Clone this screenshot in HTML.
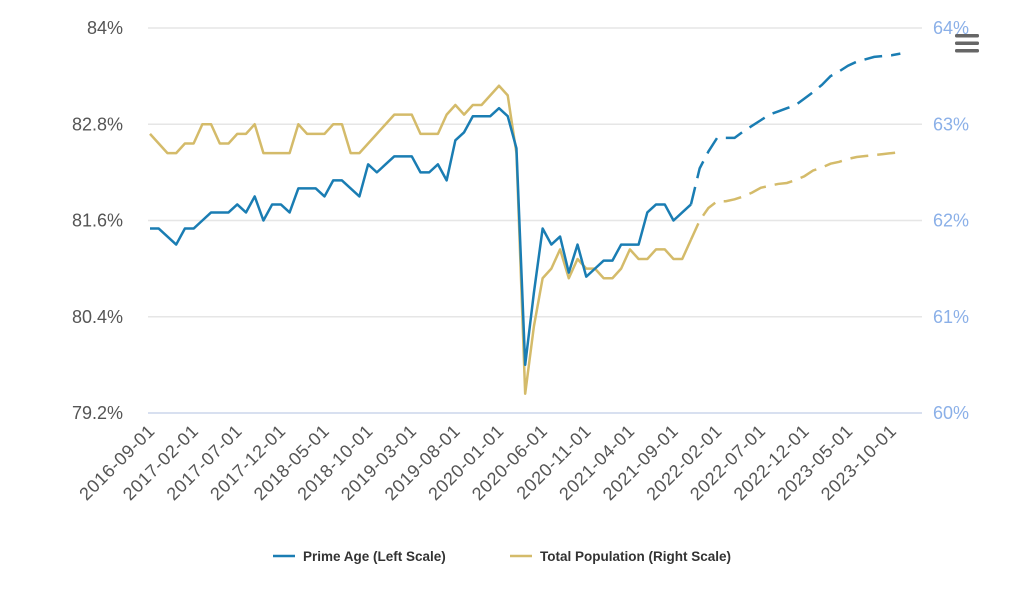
<!DOCTYPE html>
<html><head><meta charset="utf-8">
<style>
html,body{margin:0;padding:0;background:#fff;}
svg{display:block;font-family:"Liberation Sans",sans-serif;}
</style></head>
<body>
<svg id="chart" width="1024" height="597" viewBox="0 0 1024 597">
<g id="grid"></g>
<g id="axes"></g>
<g id="series"></g>
<g id="legend"></g>
<g>
<rect x="955" y="34" width="24" height="3.5" rx="1.5" fill="#666"/>
<rect x="955" y="41.5" width="24" height="3.5" rx="1.5" fill="#666"/>
<rect x="955" y="49" width="24" height="3.5" rx="1.5" fill="#666"/>
</g>
</svg>
<script>
const startYear = 2016, startMonth = 9;
const leftTicks = [79.2, 80.4, 81.6, 82.8, 84];
const leftTickLabels = ["79.2%", "80.4%", "81.6%", "82.8%", "84%"];
const rightTicks = [60, 61, 62, 63, 64];
const rightTickLabels = ["60%", "61%", "62%", "63%", "64%"];
const primeAge = [81.5,81.5,81.4,81.3,81.5,81.5,81.6,81.7,81.7,81.7,81.8,81.7,81.9,81.6,81.8,81.8,81.7,82.0,82.0,82.0,81.9,82.1,82.1,82.0,81.9,82.3,82.2,82.3,82.4,82.4,82.4,82.2,82.2,82.3,82.1,82.6,82.7,82.9,82.9,82.9,83.0,82.9,82.5,79.8,80.7,81.5,81.3,81.4,80.95,81.3,80.9,81.0,81.1,81.1,81.3,81.3,81.3,81.7,81.8,81.8,81.6,81.7,81.8,82.25,82.46,82.63,82.63,82.63,82.71,82.78,82.85,82.92,82.96,83.0,83.04,83.12,83.2,83.29,83.4,83.46,83.53,83.58,83.61,83.64,83.65,83.66,83.68];
const totalPop = [62.9,62.8,62.7,62.7,62.8,62.8,63.0,63.0,62.8,62.8,62.9,62.9,63.0,62.7,62.7,62.7,62.7,63.0,62.9,62.9,62.9,63.0,63.0,62.7,62.7,62.8,62.9,63.0,63.1,63.1,63.1,62.9,62.9,62.9,63.1,63.2,63.1,63.2,63.2,63.3,63.4,63.3,62.7,60.2,60.9,61.4,61.5,61.7,61.4,61.6,61.5,61.5,61.4,61.4,61.5,61.7,61.6,61.6,61.7,61.7,61.6,61.6,61.8,62.0,62.13,62.2,62.2,62.22,62.25,62.29,62.34,62.36,62.38,62.39,62.42,62.46,62.52,62.55,62.59,62.61,62.64,62.66,62.67,62.68,62.69,62.7,62.71];
const forecastStart = 62;
const labelEvery = 5;

const NS = "http://www.w3.org/2000/svg";
const X0 = 150, STEP = 8.725, YTOP = 28, YBOT = 413, GX0 = 148, GX1 = 922;
const xPos = i => X0 + i * STEP;
const yLeft = v => YBOT - (v - 79.2) / (84 - 79.2) * (YBOT - YTOP);
const yRight = v => YBOT - (v - 60) / (64 - 60) * (YBOT - YTOP);
function mk(tag, attrs, parent) {
  const e = document.createElementNS(NS, tag);
  for (const k in attrs) e.setAttribute(k, attrs[k]);
  parent.appendChild(e);
  return e;
}
const grid = document.getElementById("grid"), axes = document.getElementById("axes"),
      series = document.getElementById("series"), legend = document.getElementById("legend");

leftTicks.forEach((v, i) => {
  const y = yLeft(v);
  const g = mk("line", {x1: GX0, x2: GX1, y1: y, y2: y, stroke: i === 0 ? "#ccd6eb" : "#e6e6e6", "stroke-width": 1.5}, grid);
  
  
  const t = mk("text", {x: 123, y: y + 6, "text-anchor": "end", "font-size": 18, fill: "#555"}, axes);
  t.textContent = leftTickLabels[i];
  
  
});
rightTicks.forEach((v, i) => {
  const y = yRight(v);
  const t = mk("text", {x: 933, y: y + 6, "text-anchor": "start", "font-size": 18, fill: "#8bb0e8"}, axes);
  t.textContent = rightTickLabels[i];
  
  
});
for (let i = 0; i < primeAge.length; i += labelEvery) {
  const m0 = startMonth - 1 + i;
  const yr = startYear + Math.floor(m0 / 12), mo = (m0 % 12) + 1;
  const lbl = yr + "-" + String(mo).padStart(2, "0") + "-01";
  const x = xPos(i) + 6, y = 432;
  const t = mk("text", {x: x, y: y, "text-anchor": "end", "font-size": 18, "letter-spacing": 0.6, fill: "#555", transform: `rotate(-45 ${x} ${y})`}, axes);
  t.textContent = lbl;
  
  
}
function drawSeries(vals, yf, color, name) {
  const pts = vals.map((v, i) => [xPos(i), yf(v)]);
  const solid = pts.slice(0, forecastStart + 1).map(p => p.join(",")).join(" ");
  const dashed = pts.slice(forecastStart).map(p => p.join(",")).join(" ");
  const a = mk("polyline", {points: solid, fill: "none", stroke: color, "stroke-width": 2.5, "stroke-linejoin": "round"}, series);
  
  
  const b = mk("polyline", {points: dashed, fill: "none", stroke: color, "stroke-width": 2.5, "stroke-dasharray": "18,9"}, series);
  
  
}
drawSeries(totalPop, yRight, "#d4bb6a", "total-population");
drawSeries(primeAge, yLeft, "#1a7db3", "prime-age");

[[273, "#1a7db3", "Prime Age (Left Scale)", "legend-prime-age"], [510, "#d4bb6a", "Total Population (Right Scale)", "legend-total-population"]].forEach(([x, c, txt, nm]) => {
  const g = mk("g", {}, legend);
  
  
  mk("line", {x1: x, x2: x + 22, y1: 556, y2: 556, stroke: c, "stroke-width": 2.5}, g);
  const t = mk("text", {x: x + 30, y: 561, "font-size": 13.5, "font-weight": "bold", fill: "#333"}, g);
  t.textContent = txt;
});
</script>
</body></html>
